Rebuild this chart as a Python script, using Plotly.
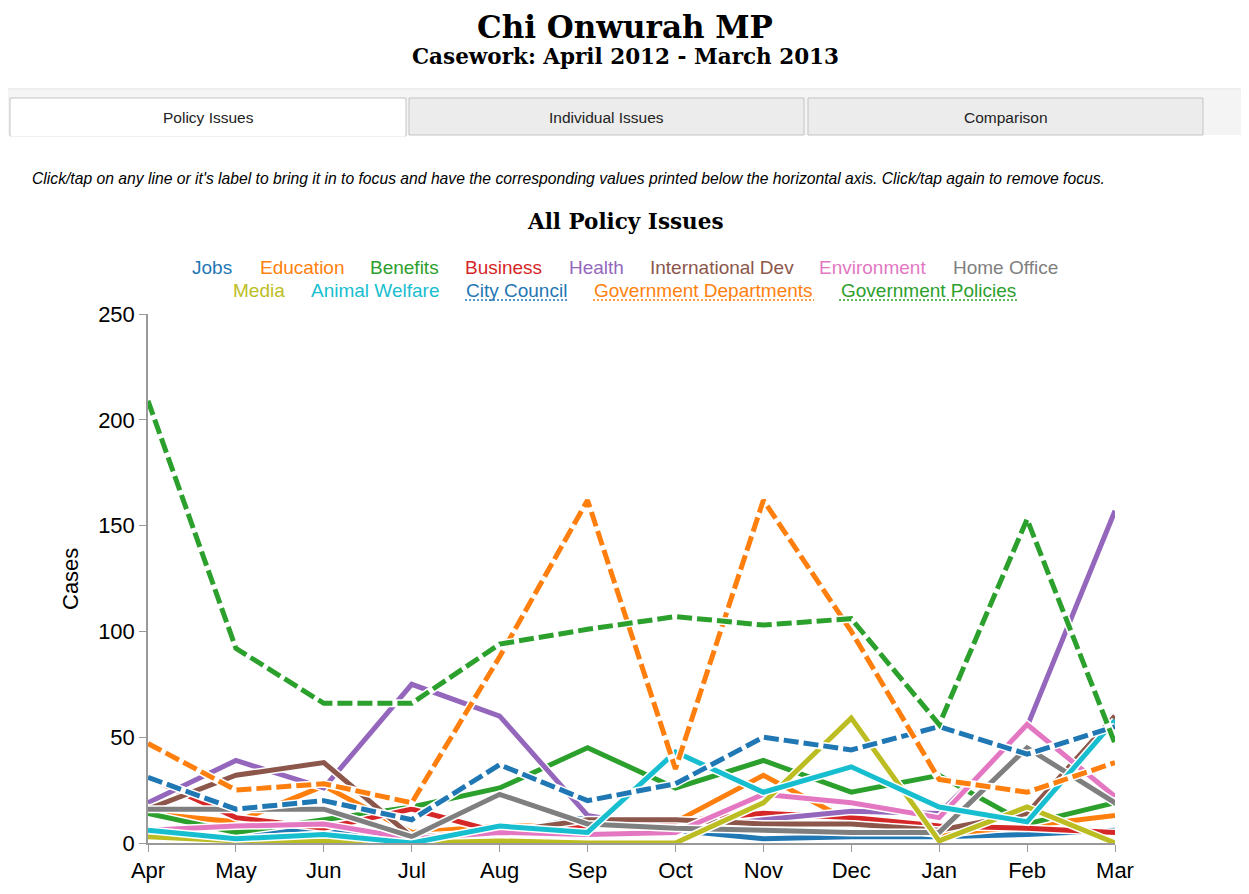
import plotly.graph_objects as go

# casework per month, April 2012 - March 2013
months = ["Apr", "May", "Jun", "Jul", "Aug", "Sep", "Oct", "Nov", "Dec", "Jan", "Feb", "Mar"]

jobs = [14, 5, 7, 1, 5, 12, 6, 2, 3, 3, 4, 6]
education = [14, 10, 27, 5, 8, 8, 10, 32, 10, 4, 8, 13]
benefits = [14, 5, 11, 17, 26, 45, 26, 39, 24, 32, 9, 19]
business = [31, 12, 7, 16, 5, 8, 10, 14, 12, 8, 7, 5]
health = [19, 39, 26, 75, 60, 13, 6, 11, 15, 14, 55, 157]
international_dev = [16, 32, 38, 3, 5, 11, 11, 9, 9, 6, 14, 60]
environment = [6, 8, 9, 2, 5, 4, 5, 23, 19, 12, 56, 22]
home_office = [16, 16, 16, 3, 23, 9, 7, 6, 5, 5, 45, 19]
media = [3, 1, 1, 0, 1, 0, 0, 19, 59, 1, 17, 0]
animal_welfare = [6, 2, 4, 0, 8, 5, 43, 24, 36, 17, 10, 58]
city_council = [31, 16, 20, 11, 37, 20, 28, 50, 44, 55, 42, 55]
government_departments = [47, 25, 28, 19, 88, 162, 35, 162, 100, 30, 24, 38]
government_policies = [209, 92, 66, 66, 94, 101, 107, 103, 106, 56, 153, 47]

series = [
    ("Jobs", jobs, "#1f77b4", False),
    ("Education", education, "#ff7f0e", False),
    ("Benefits", benefits, "#2ca02c", False),
    ("Business", business, "#d62728", False),
    ("Health", health, "#9467bd", False),
    ("International Dev", international_dev, "#8c564b", False),
    ("Environment", environment, "#e377c2", False),
    ("Home Office", home_office, "#7f7f7f", False),
    ("Media", media, "#bcbd22", False),
    ("Animal Welfare", animal_welfare, "#17becf", False),
    ("City Council", city_council, "#1f77b4", True),
    ("Government Departments", government_departments, "#ff7f0e", True),
    ("Government Policies", government_policies, "#2ca02c", True),
]

W, H = 1249, 894
# page has an 8px body margin, so the figure sits 8px right/down
PAGE_L, PAGE_T, PW, PH = 148, 314, 967, 529
L, T = PAGE_L - 8, PAGE_T - 8
R, B = W - L - PW, H - T - PH


def px(x):
    return (x - PAGE_L) / PW


def py(y):
    return (PAGE_T + PH - y) / PH


fig = go.Figure()

for name, vals, color, dashed in series:
    fig.add_trace(go.Scatter(x=months, y=vals, mode="lines", hoverinfo="skip",
                             line=dict(color="white", width=8), showlegend=False))
    fig.add_trace(go.Scatter(x=months, y=vals, mode="lines", name=name,
                             line=dict(color=color, width=5,
                                       dash="15px,5px" if dashed else "solid"),
                             showlegend=False))

shapes = []
# panel + tab bar
shapes.append(dict(type="rect", xref="paper", yref="paper", x0=px(3), x1=px(1246),
                   y0=py(900), y1=py(89), line=dict(color="#dddddd", width=1),
                   fillcolor="rgba(0,0,0,0)", layer="below"))
shapes.append(dict(type="rect", xref="paper", yref="paper", x0=px(4), x1=px(1245),
                   y0=py(135), y1=py(90), line=dict(width=0), fillcolor="#f4f4f4",
                   layer="below"))
tabs = [("Policy Issues", 10, 406, True), ("Individual Issues", 409, 804, False),
        ("Comparison", 808, 1203, False)]
annotations = []
for label, x0, x1, active in tabs:
    shapes.append(dict(type="rect", xref="paper", yref="paper", x0=px(x0), x1=px(x1),
                       y0=py(136 if active else 135), y1=py(98),
                       line=dict(color="#c4c4c4", width=1),
                       fillcolor="white" if active else "#ececec", layer="below"))
    annotations.append(dict(text=label, x=px((x0 + x1) / 2), y=py(117), xref="paper",
                            yref="paper", showarrow=False, xanchor="center",
                            yanchor="middle",
                            font=dict(family="Liberation Sans", size=15.5, color="#222")))
shapes.append(dict(type="line", xref="paper", yref="paper", x0=px(11), x1=px(405),
                   y0=py(135.5), y1=py(135.5), line=dict(color="white", width=2)))

# titles
annotations.append(dict(text="<b>Chi Onwurah MP</b>", x=px(625), y=py(8.5), xref="paper",
                        yref="paper", showarrow=False, xanchor="center", yanchor="top",
                        borderpad=0,
                        font=dict(family="DejaVu Serif", size=31, color="black")))
annotations.append(dict(text="<b>Casework: April 2012 - March 2013</b>", x=px(625.5),
                        y=py(56), xref="paper", yref="paper", showarrow=False,
                        xanchor="center", yanchor="middle",
                        font=dict(family="DejaVu Serif", size=21.5, color="black")))
annotations.append(dict(text="<i>Click/tap on any line or it's label to bring it in to focus and "
                             "have the corresponding values printed below the horizontal axis. "
                             "Click/tap again to remove focus.</i>",
                        x=px(30), y=py(178), xref="paper", yref="paper", showarrow=False,
                        xanchor="left", yanchor="middle",
                        font=dict(family="Liberation Sans", size=15.7, color="black")))
annotations.append(dict(text="<b>All Policy Issues</b>", x=px(625.5), y=py(221), xref="paper",
                        yref="paper", showarrow=False, xanchor="center", yanchor="middle",
                        font=dict(family="DejaVu Serif", size=21.5, color="black")))

# legend as coloured text
legend_pos = {
    "Jobs": (212, 267), "Education": (302, 267), "Benefits": (404.5, 267),
    "Business": (503.5, 267), "Health": (596, 267), "International Dev": (721.5, 267),
    "Environment": (872.5, 267), "Home Office": (1005, 267),
    "Media": (259, 290), "Animal Welfare": (375, 290), "City Council": (516.5, 290),
    "Government Departments": (703.5, 290), "Government Policies": (928.5, 290),
}
underline = {"City Council": (465, 568), "Government Departments": (593, 814),
             "Government Policies": (839, 1018)}
for name, vals, color, dashed in series:
    cx, cy = legend_pos[name]
    annotations.append(dict(text=name, x=px(cx), y=py(cy), xref="paper", yref="paper",
                            showarrow=False, xanchor="center", yanchor="middle",
                            font=dict(family="Liberation Sans", size=19, color=color)))
    if dashed:
        u0, u1 = underline[name]
        shapes.append(dict(type="line", xref="paper", yref="paper", x0=px(u0), x1=px(u1),
                           y0=py(300), y1=py(300),
                           line=dict(color=color, width=1.5, dash="2px,2px")))

annotations.append(dict(text="Cases", x=px(70), y=py(579), xref="paper", yref="paper",
                        showarrow=False, textangle=-90, xanchor="center", yanchor="middle",
                        font=dict(family="Liberation Sans", size=22, color="black")))

fig.update_layout(
    width=W, height=H,
    margin=dict(l=L, r=R, t=T, b=B),
    paper_bgcolor="white", plot_bgcolor="white",
    shapes=shapes, annotations=annotations,
    showlegend=False,
    xaxis=dict(type="category", range=[0, len(months) - 1], showgrid=False, zeroline=False,
               showline=True, linecolor="#999999", linewidth=1.5, ticks="outside",
               ticklen=7, tickcolor="#999999",
               tickfont=dict(family="Liberation Sans", size=22, color="black")),
    yaxis=dict(range=[0, 250], tickvals=[0, 50, 100, 150, 200, 250], showgrid=False,
               zeroline=False, showline=True, linecolor="#999999", linewidth=1.5,
               ticks="outside", ticklen=7, tickcolor="#999999",
               tickfont=dict(family="Liberation Sans", size=22, color="black")),
)

fig.write_html("out.html")
